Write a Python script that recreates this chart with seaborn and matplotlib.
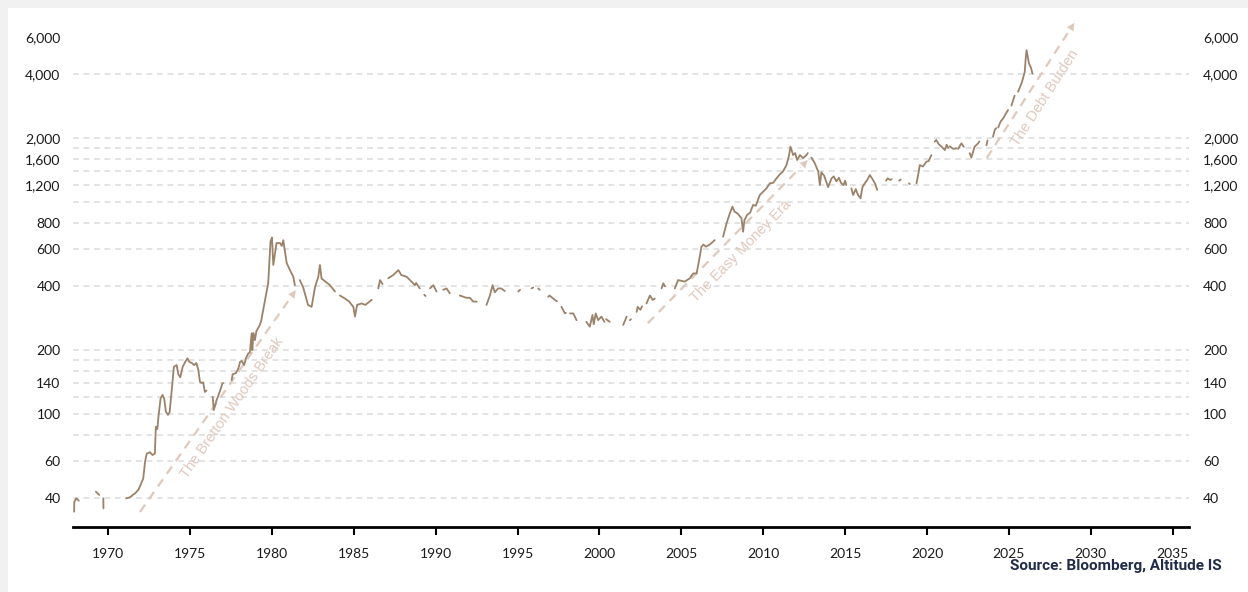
import numpy as np
import pandas as pd
import seaborn as sns
import matplotlib
matplotlib.use("Agg")
import matplotlib.pyplot as plt
from matplotlib.ticker import FixedLocator, FuncFormatter, NullLocator
from matplotlib.patches import Rectangle

nan = float("nan")

# Gold price (USD/oz); nan marks a gap in the series
years = [
    1967.92, 1967.93, 1968.05, 1968.20, nan,
    1969.25, 1969.45, nan,
    1969.70, 1969.71, nan,
    1971.09, 1971.25, 1971.38, 1971.50, 1971.64, 1971.85, 1972.00, 1972.14, 1972.25, 1972.35,
    1972.55, 1972.71, 1972.85, 1972.91, 1973.00, 1973.08, 1973.20, 1973.32, 1973.42, 1973.52,
    1973.65, 1973.75, 1973.87, 1974.01, 1974.18, 1974.28, 1974.40, 1974.55, 1974.70, 1974.84,
    1974.95, 1975.10, 1975.25, 1975.38, 1975.50, 1975.60, 1975.70, 1975.80, 1975.90, 1976.00, nan,
    1976.38, 1976.45, 1976.60, 1976.74, 1976.85, 1976.97, 1977.02, nan,
    1977.54, 1977.60, 1977.80, 1977.95, 1978.05, 1978.15, 1978.30, 1978.41, 1978.55, 1978.65,
    1978.76, 1978.80, 1978.87, 1978.96, 1979.05, 1979.26, 1979.35, 1979.50, 1979.77, 1979.91,
    1980.00, 1980.08, 1980.28, 1980.49, 1980.60, 1980.69, 1980.90, 1981.10, 1981.30, 1981.40, nan,
    1981.70, 1981.90, 1982.20, 1982.42, 1982.63, 1982.83, 1982.93, 1983.03, 1983.20, 1983.54, 1983.85, nan,
    1984.15, 1984.46, 1984.70, 1984.97, 1985.07, 1985.20, 1985.47, 1985.70, 1986.09, nan,
    1986.49, 1986.60, 1986.75, nan,
    1987.10, 1987.40, 1987.72, 1987.90, 1988.22, 1988.43, 1988.73, 1988.80, 1989.03, nan,
    1989.30, 1989.38, nan,
    1989.65, 1989.85, 1990.05, nan,
    1990.46, 1990.66, 1990.86, nan,
    1991.47, 1991.88, 1992.09, 1992.29, 1992.50, nan,
    1993.10, 1993.31, 1993.47, 1993.61, 1993.81, 1994.00, 1994.22, nan,
    1995.04, 1995.15, nan,
    1995.85, 1995.95, nan,
    1996.26, 1996.35, nan,
    1996.87, 1996.95, 1997.28, 1997.40, nan,
    1997.68, 1997.89, 1997.95, nan,
    1998.20, 1998.40, 1998.60, nan,
    1999.20, 1999.41, 1999.57, 1999.65, 1999.77, 1999.92, 2000.12, 2000.30, nan,
    2000.40, 2000.63, nan,
    2001.45, 2001.66, nan,
    2001.86, 2001.92, nan,
    2002.27, 2002.33, 2002.50, 2002.60, nan,
    2002.87, 2003.08, 2003.25, 2003.38, nan,
    2003.79, 2003.90, 2004.00, nan,
    2004.60, 2004.80, 2005.21, 2005.52, 2005.72, 2005.93, 2006.03, 2006.23, 2006.35, 2006.50,
    2006.74, 2007.04, nan,
    2007.55, 2007.76, 2007.96, 2008.12, 2008.25, 2008.45, 2008.67, 2008.77, 2008.85, 2009.01,
    2009.20, 2009.38, 2009.55, 2009.79, 2009.95, 2010.20, 2010.40, 2010.60, 2010.81, 2011.01,
    2011.20, 2011.42, 2011.58, 2011.66, 2011.83, 2011.95, 2012.07, 2012.24, 2012.44, 2012.64,
    2012.72, nan,
    2012.94, 2013.15, 2013.36, 2013.46, 2013.55, 2013.72, 2013.96, 2014.17, 2014.30, 2014.47,
    2014.62, 2014.75, 2014.90, 2015.00, 2015.07, nan,
    2015.38, 2015.49, 2015.65, 2015.79, 2015.94, 2016.06, 2016.20, 2016.35, 2016.51, 2016.65,
    2016.82, 2016.96, nan,
    2017.50, 2017.60, 2017.75, 2017.85, nan,
    2018.30, 2018.40, nan,
    2018.90, 2018.95, nan,
    2019.36, 2019.46, 2019.56, 2019.75, 2019.97, 2020.10, 2020.27, nan,
    2020.47, 2020.57, 2020.70, 2020.88, 2021.09, 2021.20, 2021.30, nan,
    2021.39, 2021.60, 2021.80, nan,
    2021.90, 2022.10, 2022.25, nan,
    2022.61, 2022.71, 2022.91, 2023.12, 2023.20, nan,
    2023.63, 2023.70, nan,
    2024.03, 2024.14, 2024.23, nan,
    2024.35, 2024.50, 2024.66, 2024.80, 2024.95, nan,
    2025.16, 2025.35, nan,
    2025.56, 2025.66, 2025.80, 2025.97, 2026.03, 2026.08, 2026.23, 2026.35, 2026.44,
]
prices = [
    34.6, 38.5, 40.0, 39.0, nan,
    43.0, 41.5, nan,
    40.0, 35.9, nan,
    40.0, 40.3, 40.7, 41.5, 42.2, 44.0, 46.7, 49.7, 59.5, 65.0,
    66.0, 64.0, 65.0, 87.0, 85.0, 99.0, 118.5, 123.0, 118.0, 102.5,
    99.0, 102.0, 127.0, 167.0, 170.0, 154.0, 149.0, 167.0, 176.0, 183.0,
    176.0, 174.0, 170.0, 174.0, 162.0, 142.0, 140.0, 141.0, 127.0, 129.0, nan,
    120.5, 104.4, 115.0, 123.0, 130.0, 139.0, 140.0, nan,
    144.5, 154.0, 156.0, 164.0, 176.0, 178.0, 170.0, 183.0, 193.0, 195.0,
    240.0, 200.0, 241.0, 223.0, 246.0, 263.0, 277.0, 320.0, 414.0, 650.0,
    680.0, 504.0, 640.0, 640.0, 620.0, 660.0, 515.0, 477.0, 444.0, 405.0, nan,
    428.0, 397.0, 327.0, 320.0, 397.0, 444.0, 504.0, 435.0, 425.0, 405.0, 378.0, nan,
    362.0, 350.0, 340.0, 320.0, 288.0, 327.0, 332.0, 327.0, 345.0, nan,
    391.0, 428.0, 410.0, nan,
    437.0, 452.0, 477.0, 452.0, 444.0, 428.0, 405.0, 415.0, 391.0, nan,
    365.0, 360.0, nan,
    391.0, 405.0, 378.0, nan,
    385.0, 391.0, 371.0, nan,
    362.0, 353.0, 353.0, 339.0, 339.0, nan,
    327.0, 362.0, 405.0, 375.0, 391.0, 391.0, 380.0, nan,
    378.0, 385.0, nan,
    391.0, 395.0, nan,
    391.0, 385.0, nan,
    357.0, 362.0, 345.0, 340.0, nan,
    320.0, 298.0, 300.0, nan,
    298.0, 298.0, 277.0, nan,
    272.0, 258.0, 293.0, 265.0, 298.0, 277.0, 288.0, 272.0, nan,
    280.0, 272.0, nan,
    263.0, 288.0, nan,
    277.0, 280.0, nan,
    303.0, 320.0, 310.0, 322.0, nan,
    332.0, 362.0, 345.0, 350.0, nan,
    391.0, 413.0, 400.0, nan,
    391.0, 428.0, 421.0, 437.0, 460.0, 460.0, 504.0, 615.0, 630.0, 615.0,
    630.0, 661.0, nan,
    686.0, 792.0, 883.0, 950.0, 900.0, 880.0, 837.0, 724.0, 820.0, 868.0,
    890.0, 968.0, 960.0, 1078.0, 1110.0, 1160.0, 1225.0, 1230.0, 1292.0, 1350.0,
    1390.0, 1493.0, 1664.0, 1824.0, 1664.0, 1700.0, 1577.0, 1664.0, 1610.0, 1664.0,
    1700.0, nan,
    1620.0, 1521.0, 1390.0, 1202.0, 1380.0, 1330.0, 1175.0, 1292.0, 1320.0, 1250.0,
    1300.0, 1230.0, 1200.0, 1260.0, 1202.0, nan,
    1160.0, 1078.0, 1150.0, 1078.0, 1040.0, 1175.0, 1225.0, 1270.0, 1340.0, 1290.0,
    1225.0, 1140.0, nan,
    1260.0, 1292.0, 1270.0, 1280.0, nan,
    1260.0, 1275.0, nan,
    1225.0, 1215.0, nan,
    1225.0, 1340.0, 1493.0, 1470.0, 1549.0, 1560.0, 1664.0, nan,
    1925.0, 1960.0, 1880.0, 1824.0, 1758.0, 1860.0, 1800.0, nan,
    1830.0, 1780.0, 1790.0, nan,
    1780.0, 1890.0, 1820.0, nan,
    1700.0, 1620.0, 1824.0, 1890.0, 1930.0, nan,
    1850.0, 1950.0, nan,
    2030.0, 2190.0, 2230.0, nan,
    2245.0, 2400.0, 2480.0, 2600.0, 2715.0, nan,
    2850.0, 3170.0, nan,
    3310.0, 3450.0, 3680.0, 4110.0, 4760.0, 5200.0, 4500.0, 4300.0, 4030.0,
]

y_tick_values = [40, 60, 100, 140, 200, 400, 600, 800, 1200, 1600, 2000, 4000, 6000]
grid_values = [40, 60, 80, 100, 120, 140, 160, 180, 200, 400, 600, 800, 1000,
               1200, 1400, 1600, 1800, 2000, 4000]
x_tick_values = list(range(1970, 2036, 5))

annotation_labels = ["The Bretton Woods Break", "The Easy Money Era", "The Debt Burden"]
arrow_starts = [(1971.94, 34.5), (2002.95, 268), (2023.65, 1611)]
arrow_ends = [(1981.46, 384), (2012.72, 1577), (2029.0, 7000)]

# ---- build frame with segment ids (so gaps stay gaps) ----
seg_ids = []
seg = 0
for v in prices:
    if np.isnan(v):
        seg += 1
    seg_ids.append(seg)
df = pd.DataFrame({"year": years, "price": prices, "seg": seg_ids}).dropna()

sns.set_theme(style="white")
plt.rcParams["font.family"] = ["Lato", "DejaVu Sans"]

LINE = "#9b8269"
ARROW = "#dfc9bd"
GRID = "#e3e3e3"
TEXT = "#1a1a1a"

W, H = 1248, 592
fig = plt.figure(figsize=(W / 100, H / 100), dpi=100, facecolor="#f1f1f1")
fig.add_artist(Rectangle((8 / W, 0), 1, 1 - 8 / H, transform=fig.transFigure,
                         facecolor="white", edgecolor="none", zorder=-10))

ax = fig.add_axes([73 / W, 1 - 527 / H, (1189 - 73) / W, (527 - 18) / H])
ax.set_facecolor("white")

ymin, ymax = 29.3, 7374
ax.set_yscale("log")
ax.set_ylim(ymin, ymax)
ax.set_xlim(1967.85, 2036)

for g in grid_values:
    ax.axhline(g, color=GRID, lw=1.4, ls=(0, (3, 2.4)), zorder=0)

sns.lineplot(data=df, x="year", y="price", units="seg", estimator=None,
             color=LINE, lw=1.3, ax=ax, zorder=3, legend=False)

fmt = FuncFormatter(lambda v, p: f"{v:,.0f}")
ax.yaxis.set_major_locator(FixedLocator(y_tick_values))
ax.yaxis.set_major_formatter(fmt)
ax.yaxis.set_minor_locator(NullLocator())
ax.tick_params(axis="y", length=0, pad=9, labelsize=10, labelcolor=TEXT)
ax.set_xticks(x_tick_values)
ax.tick_params(axis="x", length=6, width=1.5, color="black", pad=9,
               labelsize=10, labelcolor=TEXT, bottom=True)
ax.set_xlabel("")
ax.set_ylabel("")
for s in ["left", "right", "top"]:
    ax.spines[s].set_visible(False)
ax.spines["bottom"].set_color("black")
ax.spines["bottom"].set_linewidth(2)

ax2 = ax.twinx()
ax2.set_yscale("log")
ax2.set_ylim(ymin, ymax)
ax2.yaxis.set_major_locator(FixedLocator(y_tick_values))
ax2.yaxis.set_major_formatter(fmt)
ax2.yaxis.set_minor_locator(NullLocator())
ax2.tick_params(axis="y", length=0, pad=10, labelsize=10, labelcolor=TEXT)
for s in ["left", "right", "top", "bottom"]:
    ax2.spines[s].set_visible(False)

# ---- annotated arrows, label placed parallel to the arrow, offset to the lower right ----
fig.canvas.draw()
for lab, (x0, y0), (x1, y1) in zip(annotation_labels, arrow_starts, arrow_ends):
    f = 0.955
    xm = x0 + (x1 - x0) * f
    ym = 10 ** (np.log10(y0) + (np.log10(y1) - np.log10(y0)) * f)
    ax.plot([x0, xm], [y0, ym], color=ARROW, lw=1.6, ls=(0, (4, 3)), zorder=2,
            solid_capstyle="butt", clip_on=False)
    ax.annotate("", xy=(x1, y1), xytext=(xm, ym),
                arrowprops=dict(arrowstyle="-|>", color=ARROW, lw=0.01,
                                mutation_scale=14, shrinkA=0, shrinkB=0),
                zorder=2, annotation_clip=False)
    p0 = ax.transData.transform((x0, y0))
    p1 = ax.transData.transform((x1, y1))
    d = p1 - p0
    ang = np.degrees(np.arctan2(d[1], d[0]))
    u = d / np.hypot(*d)
    n = np.array([u[1], -u[0]])  # perpendicular, toward lower right
    pc = p0 + d * 0.51
    off = n * 16
    ax.annotate(lab, xy=tuple(pc), xycoords="figure pixels",
                xytext=(off[0] * 0.72, off[1] * 0.72), textcoords="offset points",
                rotation=ang, rotation_mode="anchor", ha="center", va="center",
                color=ARROW, fontsize=10.5, fontweight="medium",
                family=["Liberation Sans", "DejaVu Sans"], zorder=2)

fig.text(1222 / W, 1 - 566 / H, "Source: Bloomberg, Altitude IS", ha="right",
         va="center", fontsize=11, fontweight="bold", color="#1f2b47",
         family=["Roboto", "DejaVu Sans"])

fig.savefig("out.png", dpi=100, facecolor=fig.get_facecolor())
